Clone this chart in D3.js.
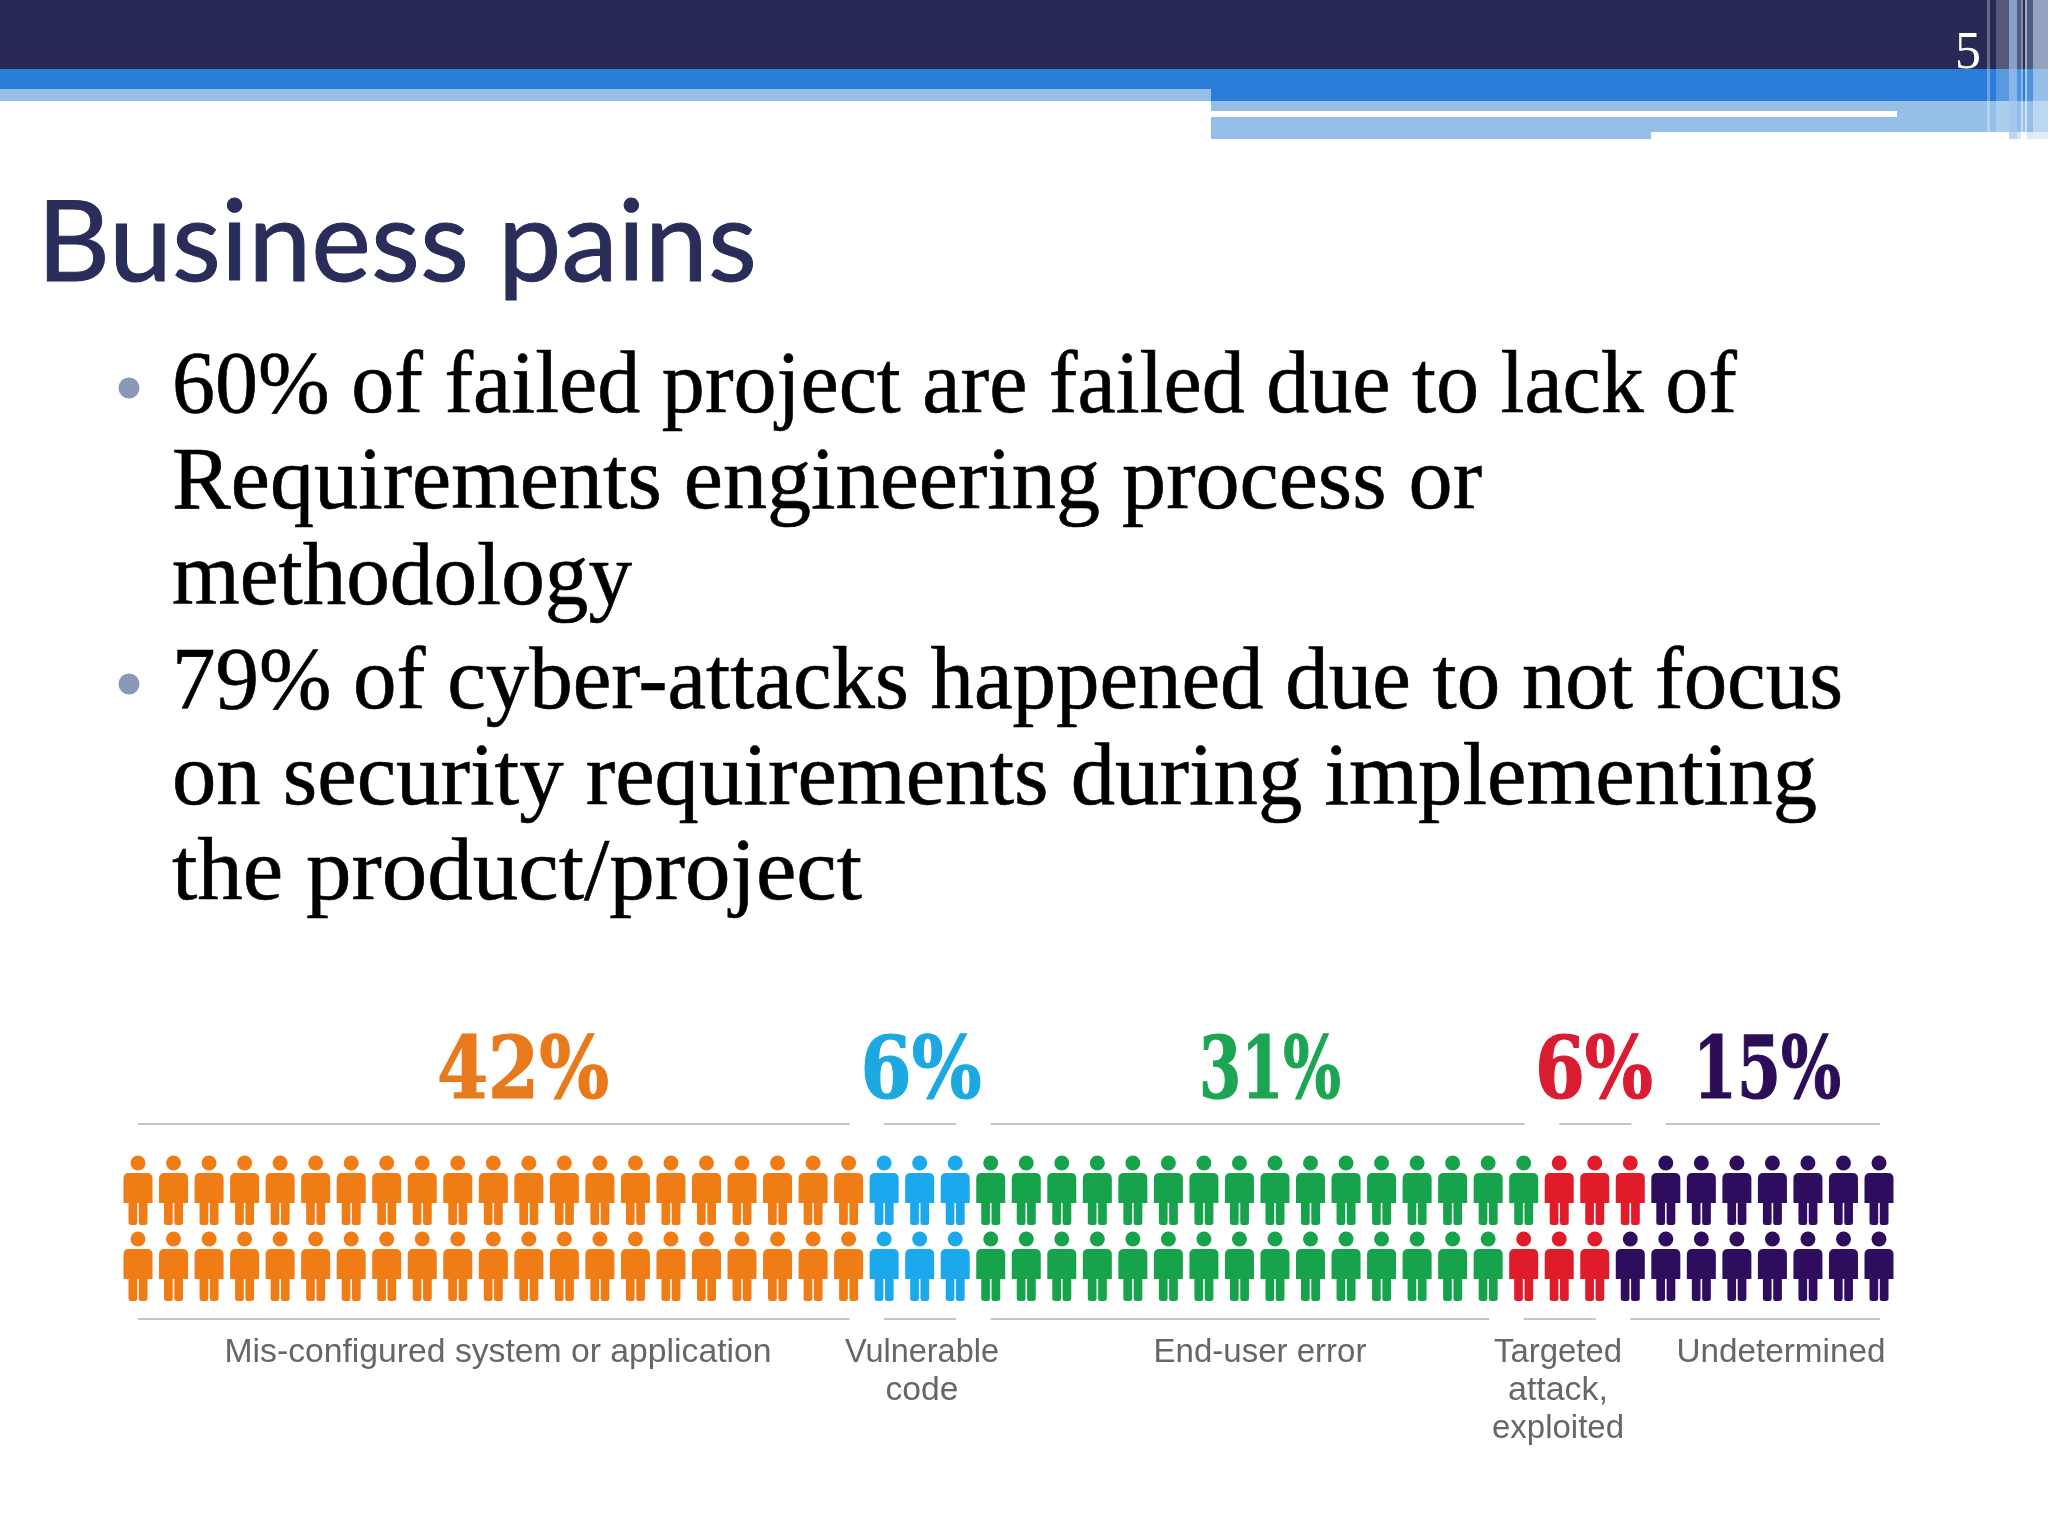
<!DOCTYPE html>
<html>
<head>
<meta charset="utf-8">
<script src="https://cdn.jsdelivr.net/npm/d3@7"></script>
<style>
  html, body { margin: 0; background: #fff; }
  svg { display: block; }
</style>
</head>
<body>
<svg id="slide"></svg>
<script>
// chart values
const categories = ['Mis-configured system or application', 'Vulnerable code', 'End-user error', 'Targeted attack, exploited', 'Undetermined'];
const shares = [42, 6, 31, 6, 15];
const shareLabels = ['42%', '6%', '31%', '6%', '15%'];
const captionLines = [
    ['Mis-configured system or application'],
    ['Vulnerable', 'code'],
    ['End-user error'],
    ['Targeted', 'attack,', 'exploited'],
    ['Undetermined']
];

// slide text
const titleText = 'Business pains';
const slideNumber = '5';
const bodyLines = [
    '60% of failed project are failed due to lack of',
    'Requirements engineering process or',
    'methodology',
    '79% of cyber-attacks happened due to not focus',
    'on security requirements during implementing',
    'the product/project'
];

// layout
const W = 2048, H = 1536;
const personColors = ['#f07b14', '#1ba8ec', '#17a34c', '#e01c2b', '#2e0f5e'];
const labelColors = ['#e87a1f', '#1ca9e2', '#1ba652', '#d91b30', '#2d1058'];
const labelCenters = [523, 921, 1270, 1594, 1767];
const labelWidths = [172, 121, 142, 118, 148];
const captionCenters = [498, 922, 1260, 1558, 1781];
const captionWidths = [[547], [154, 73], [213], [128, 100, 132], [209]];
const bodyBaselines = [412, 508, 604, 708, 804, 899];
const bodyWidths = [1565, 1310, 460, 1671, 1645, 690];
const bulletYs = [388, 684];

const svg = d3.select('#slide').attr('width', W).attr('height', H);

// the infographic in the reference is a soft, scaled up picture
svg.append('defs').append('filter')
    .attr('id', 'soft')
    .attr('x', '-2%').attr('y', '-2%').attr('width', '104%').attr('height', '104%')
    .append('feGaussianBlur').attr('stdDeviation', 0.7);

// header bands
const bands = [
    [0, 0, W, 69, '#262a54'],
    [0, 69, W, 32, '#2a7dd8'],
    [0, 89, 1211, 12, '#95bfe9'],
    [1211, 101, 837, 38, '#95bfe9'],
    [1211, 111, 686, 6, '#ffffff'],
    [1651, 132, 397, 7, '#ffffff']
];
svg.append('g').selectAll('rect')
    .data(bands)
    .join('rect')
    .attr('x', d => d[0]).attr('y', d => d[1])
    .attr('width', d => d[2]).attr('height', d => d[3])
    .attr('fill', d => d[4]);

// the pale vertical stripes at the top right
const stripes = [
    [1987, 3, 132, '#fff', 0.3],
    [1996, 13, 132, '#fff', 0.22],
    [2009, 8, 139, '#a9c8ec', 0.75],
    [2017, 4, 139, '#8fbcea', 0.35],
    [2021, 2, 139, '#fff', 0.45],
    [2025, 2, 139, '#fff', 0.6],
    [2027, 6, 139, '#8fbcea', 0.35],
    [2033, 15, 139, '#d4e3f5', 0.65]
];
svg.append('g').selectAll('rect')
    .data(stripes)
    .join('rect')
    .attr('x', d => d[0]).attr('y', 0)
    .attr('width', d => d[1]).attr('height', d => d[2])
    .attr('fill', d => d[3]).attr('opacity', d => d[4]);

svg.append('text')
    .attr('x', 1981).attr('y', 68)
    .attr('text-anchor', 'end')
    .attr('font-family', 'Liberation Serif').attr('font-size', 52)
    .attr('fill', '#fff')
    .text(slideNumber);

svg.append('text')
    .attr('x', 37).attr('y', 281)
    .attr('font-family', 'Lato').attr('font-size', 113)
    .attr('fill', '#2a2d5a').attr('stroke', '#2a2d5a').attr('stroke-width', 1)
    .attr('textLength', 720).attr('lengthAdjust', 'spacingAndGlyphs')
    .text(titleText);

svg.append('g').selectAll('circle')
    .data(bulletYs)
    .join('circle')
    .attr('cx', 129).attr('cy', d => d).attr('r', 10.5)
    .attr('fill', '#8a99b7');

svg.append('g').selectAll('text')
    .data(bodyLines)
    .join('text')
    .attr('x', 172)
    .attr('y', (d, i) => bodyBaselines[i])
    .attr('font-family', 'Liberation Serif').attr('font-size', 88)
    .attr('fill', '#000').attr('stroke', '#000').attr('stroke-width', 0.6)
    .attr('textLength', (d, i) => bodyWidths[i]).attr('lengthAdjust', 'spacingAndGlyphs')
    .text(d => d);

// one person per percent, filled column by column, top then bottom
const cum = d3.cumsum(shares);
const people = d3.range(d3.sum(shares)).map(i => ({
    col: Math.floor(i / 2),
    row: i % 2,
    cat: d3.bisectRight(cum, i)
}));

const x = d3.scalePoint().domain(d3.range(50)).range([138, 1879]);
const y = d3.scalePoint().domain([0, 1]).range([1155.5, 1231.5]);

function bodyPath() {
    const p = d3.path();
    p.moveTo(-9, 17.5);
    p.lineTo(9, 17.5);
    p.quadraticCurveTo(14.5, 17.5, 14.5, 23);
    p.lineTo(14.5, 47.5);
    p.lineTo(9.5, 47.5);
    p.lineTo(9.5, 67);
    p.quadraticCurveTo(9.5, 69.5, 6.5, 69.5);
    p.lineTo(3, 69.5);
    p.quadraticCurveTo(0.8, 69.5, 0.8, 67);
    p.lineTo(0.8, 47.5);
    p.lineTo(-0.8, 47.5);
    p.lineTo(-0.8, 67);
    p.quadraticCurveTo(-0.8, 69.5, -3, 69.5);
    p.lineTo(-6.5, 69.5);
    p.quadraticCurveTo(-9.5, 69.5, -9.5, 67);
    p.lineTo(-9.5, 47.5);
    p.lineTo(-14.5, 47.5);
    p.lineTo(-14.5, 23);
    p.quadraticCurveTo(-14.5, 17.5, -9, 17.5);
    p.closePath();
    return p.toString();
}

const graphic = svg.append('g').attr('filter', 'url(#soft)');

const person = graphic.append('g').selectAll('g')
    .data(people)
    .join('g')
    .attr('transform', d => `translate(${x(d.col)},${y(d.row)})`)
    .attr('fill', d => personColors[d.cat]);
person.append('circle').attr('cy', 7.5).attr('r', 7.5);
person.append('path').attr('d', bodyPath());

// rules above and below, one per category and spanning its people in that row
const ruleY = [1124, 1319];
const rules = [];
[0, 1].forEach(row => {
    categories.forEach((c, cat) => {
        const cols = people.filter(d => d.row === row && d.cat === cat).map(d => d.col);
        rules.push({ row, x1: x(d3.min(cols)), x2: x(d3.max(cols)) + 1 });
    });
});
graphic.append('g').selectAll('line')
    .data(rules)
    .join('line')
    .attr('x1', d => d.x1).attr('x2', d => d.x2)
    .attr('y1', d => ruleY[d.row]).attr('y2', d => ruleY[d.row])
    .attr('stroke', '#c4c4c8').attr('stroke-width', 2);

// percentages
graphic.append('g').selectAll('text')
    .data(shareLabels)
    .join('text')
    .attr('x', (d, i) => labelCenters[i])
    .attr('y', 1098)
    .attr('text-anchor', 'middle')
    .attr('font-family', 'DejaVu Serif').attr('font-weight', 700).attr('font-stretch', 'condensed')
    .attr('font-size', 86)
    .attr('fill', (d, i) => labelColors[i])
    .attr('stroke', (d, i) => labelColors[i]).attr('stroke-width', 1.2)
    .attr('textLength', (d, i) => labelWidths[i]).attr('lengthAdjust', 'spacingAndGlyphs')
    .text(d => d);

// captions under the rows
const captions = graphic.append('g')
    .attr('font-family', 'Liberation Sans').attr('font-size', 33)
    .attr('fill', '#666').attr('text-anchor', 'middle');
captionLines.forEach((lines, cat) => {
    captions.selectAll(null)
        .data(lines)
        .join('text')
        .attr('x', captionCenters[cat])
        .attr('y', (d, i) => 1362 + i * 38)
        .attr('textLength', (d, i) => captionWidths[cat][i]).attr('lengthAdjust', 'spacingAndGlyphs')
        .text(d => d);
});
</script>
</body>
</html>
